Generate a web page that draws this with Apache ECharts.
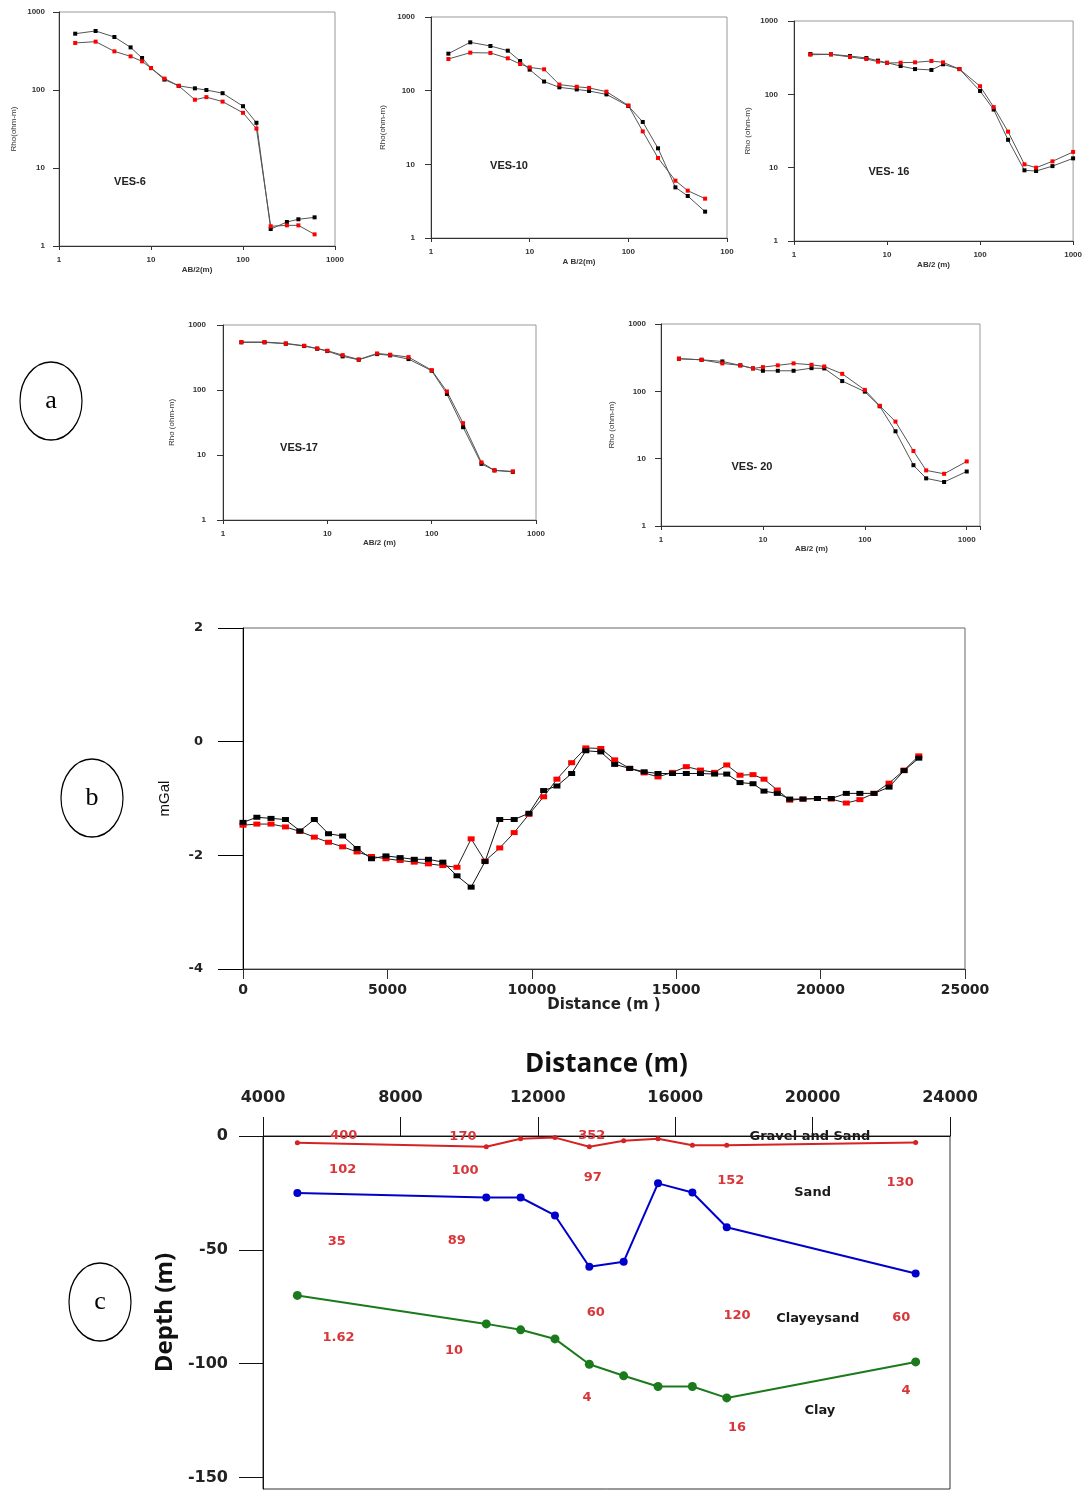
<!DOCTYPE html>
<html><head><meta charset="utf-8">
<script src="https://cdn.jsdelivr.net/npm/echarts@6/dist/echarts.min.js"></script>
<style>html,body{margin:0;padding:0;background:#fff}#c{width:1085px;height:1490px}</style>
</head><body><div id="c"></div>
<script>
// ---------- (a) VES sounding curves ----------
const abSpacing = [1.5,2.5,4,6,8,10,14,20,30,40,60,100,140,200,300,400,600];
const abSpacingLong = [1.5,2.5,4,6,8,10,14,20,30,40,60,100,140,200,300,400,600,1000];
const logTickLabels = ['1','10','100','1000'];
const ves10TickLabels = ['1','10','100','100'];
const ves6Black = [527,571,478,352,257,191,136,113,105,100,91,62,38,1.65,2.03,2.2,2.33];
const ves6Red = [401,417,313,270,233,191,140,113,75,81,71,51,32,1.79,1.84,1.84,1.41];
const ves10Black = [318,453,404,349,253,193,133,111,104,99,89,62,37.6,16.5,4.87,3.72,2.28];
const ves10Red = [269,328,325,275,230,207,195,121,113,109,97,63,28,12.2,6.0,4.39,3.42];
const ves16Black = [355,351,333,313,288,270,243,221,215,257,221,111,62,24,9.2,9.0,10.5,13.4];
const ves16Red = [347,351,323,303,279,267,270,273,285,273,221,129,67,31,11.1,10,12.2,16.4];
const ves17Black = [540,540,515,474,431,397,329,292,357,341,299,198,87,26.8,7.3,5.8,5.5];
const ves17Red = [547,547,521,480,436,402,344,295,365,349,321,202,95,30.9,7.7,5.8,5.6];
const ves20Black = [305,294,278,243,219,202,202,202,221,219,142,99,60,25.5,8.0,5.1,4.5,6.45];
const ves20Red = [305,294,260,243,219,229,243,260,248,234,182,105,61,35.5,13,6.7,5.96,9.1];
const vesTitles = ['VES-6','VES-10','VES- 16','VES-17','VES- 20'];

// ---------- (b) gravity profile ----------
const gravDistance = [0,480,970,1470,1970,2470,2960,3450,3950,4450,4950,5440,5930,6420,6920,7410,7900,8380,8890,9390,9900,10410,10870,11380,11870,12390,12870,13390,13890,14370,14870,15350,15840,16330,16750,17210,17660,18040,18500,18930,19390,19890,20370,20890,21360,21850,22370,22890,23400];
const gravBlack = [-1.42,-1.33,-1.35,-1.37,-1.57,-1.37,-1.62,-1.66,-1.88,-2.06,-2.01,-2.04,-2.07,-2.07,-2.12,-2.36,-2.56,-2.11,-1.37,-1.37,-1.26,-0.86,-0.78,-0.56,-0.16,-0.18,-0.40,-0.47,-0.53,-0.56,-0.56,-0.56,-0.56,-0.57,-0.57,-0.72,-0.74,-0.87,-0.91,-1.01,-1.01,-1.00,-1.00,-0.91,-0.91,-0.91,-0.80,-0.51,-0.29];
const gravRed = [-1.47,-1.45,-1.45,-1.50,-1.58,-1.68,-1.77,-1.85,-1.94,-2.02,-2.06,-2.09,-2.12,-2.15,-2.18,-2.21,-1.71,-2.10,-1.87,-1.60,-1.28,-0.97,-0.66,-0.37,-0.11,-0.12,-0.32,-0.47,-0.55,-0.62,-0.54,-0.44,-0.50,-0.54,-0.41,-0.59,-0.58,-0.66,-0.85,-1.03,-1.01,-1.00,-1.01,-1.08,-1.02,-0.91,-0.73,-0.50,-0.25];

// ---------- (c) geoelectric section ----------
const secDistance = [5000,10500,11500,12500,13500,14500,15500,16500,17500,23000];
const secTopBoundary = [-3,-4.7,-1.2,-0.7,-4.7,-2.1,-1.2,-4.1,-4.1,-2.9];
const secSandBase = [-25,-27,-27,-34.9,-57.4,-55.2,-20.8,-24.8,-40.1,-60.4];
const secClayTop = [-70,-82.5,-85.1,-89.1,-100.2,-105.3,-110,-110,-115,-99.2];
const resistivityText = ['400','170','352','363','303','102','100','97','152','130','35','89','60','120','60','1.62','10','4','16','4'];
const resistivityX = [6350,9820,13570,17480,22490,6320,9880,13600,17620,22550,6150,9640,13690,17800,22580,6200,9560,13430,17800,22720];
const resistivityY = [0,-0.3,0,1,1,-14.8,-15.2,-18.3,-19.6,-20.5,-46.4,-46,-77.7,-79,-79.8,-88.6,-94.4,-115,-128.2,-112];
const layerText = ['Gravel and Sand','Sand','Clayeysand','Clay'];
const layerX = [19920,20000,20150,20210];
const layerY = [-0.3,-24.9,-80.3,-120.7];

const pairs = (xs, ys) => xs.map((x, i) => [x, ys[i]]);
const isPow10 = v => Math.abs(Math.log10(v) - Math.round(Math.log10(v))) < 1e-6;
const logFmt = labels => v => isPow10(v) ? labels[Math.round(Math.log10(v))] : '';

const tickFont = {fontFamily:'Liberation Sans', fontSize:8, fontWeight:'bold', color:'#333'};
const nameFont = {fontFamily:'Liberation Sans', fontSize:8, color:'#333'};

const vesGrids = [
  {left:59, top:12, width:276, height:234},
  {left:431, top:17, width:296, height:221},
  {left:794, top:21, width:281, height:220},
  {left:223, top:325, width:313, height:195},
  {left:661, top:324, width:319, height:202}
];
const vesCfg = [
  {max:1000, xLabels:logTickLabels, xName:'AB/2(m)', yName:'Rho(ohm-m)', yGap:41, xGap:20, ym:14, xPad:0},
  {max:1000, xLabels:ves10TickLabels, xName:'A B/2(m)', yName:'Rho(ohm-m)', yGap:44, xGap:20, ym:16, xPad:0},
  {max:1000, xLabels:logTickLabels, xName:'AB/2 (m)', yName:'Rho (ohm-m)', yGap:42, xGap:20, ym:16, xPad:0},
  {max:1000, xLabels:logTickLabels, xName:'AB/2 (m)', yName:'Rho (ohm-m)', yGap:47, xGap:17, ym:17, xPad:0},
  {max:1350, xLabels:logTickLabels, xName:'AB/2 (m)', yName:'Rho (ohm-m)', yGap:45, xGap:18, ym:15, xPad:18}
];
const vesData = [
  [abSpacing, ves6Black, ves6Red],
  [abSpacing, ves10Black, ves10Red],
  [abSpacingLong, ves16Black, ves16Red],
  [abSpacing, ves17Black, ves17Red],
  [abSpacingLong, ves20Black, ves20Red]
];
const vesTitlePos = [[130,182],[509,166],[889,172],[299,448],[752,467]];

const grid = vesGrids.map(g => Object.assign({show:true, borderColor:'#999', borderWidth:1}, g));
grid.push({left:243, top:628, width:722, height:341, show:true, borderColor:'#666', borderWidth:1});
grid.push({left:263, top:1136, width:687, height:353, show:true, borderColor:'#333', borderWidth:1});

const xAxis = [], yAxis = [], series = [];
vesCfg.forEach((c, i) => {
  xAxis.push({type:'log', logBase:10, gridIndex:i, min:1, max:c.max,
    axisLine:{show:true, lineStyle:{color:'#333'}}, axisTick:{show:true, length:4, lineStyle:{color:'#333'}},
    splitLine:{show:false}, minorTick:{show:false},
    axisLabel:Object.assign({margin:10, formatter:logFmt(c.xLabels)}, tickFont),
    name:c.xName, nameLocation:'middle', nameGap:c.xGap,
    nameTextStyle:Object.assign({}, nameFont, {fontWeight:'bold', padding:[0, c.xPad, 0, 0]})});
  yAxis.push({type:'log', logBase:10, gridIndex:i, min:1, max:1000,
    axisLine:{show:true, lineStyle:{color:'#333'}}, axisTick:{show:true, length:6, lineStyle:{color:'#333'}},
    splitLine:{show:false}, minorTick:{show:false},
    axisLabel:Object.assign({margin:c.ym, formatter:logFmt(logTickLabels)}, tickFont),
    name:c.yName, nameLocation:'middle', nameGap:c.yGap, nameTextStyle:nameFont});
  const [xs, blk, red] = vesData[i];
  series.push({type:'line', xAxisIndex:i, yAxisIndex:i, data:pairs(xs, blk), symbol:'rect', symbolSize:4,
    itemStyle:{color:'#000'}, lineStyle:{color:'#555', width:1}});
  series.push({type:'line', xAxisIndex:i, yAxisIndex:i, data:pairs(xs, red), symbol:'rect', symbolSize:4,
    itemStyle:{color:'#f00'}, lineStyle:{color:'#555', width:1}});
});

// gravity
const gFont = {fontFamily:'DejaVu Sans', fontWeight:'bold', color:'#222'};
xAxis.push({type:'value', gridIndex:5, min:0, max:25000, interval:5000,
  axisLine:{show:true, onZero:false, lineStyle:{color:'#333'}}, axisTick:{show:true, length:10, lineStyle:{color:'#333'}},
  splitLine:{show:false},
  axisLabel:Object.assign({margin:14, fontSize:14, formatter:v => String(v)}, gFont),
  name:'Distance (m )', nameLocation:'middle', nameGap:29, nameTextStyle:Object.assign({fontSize:15}, gFont)});
yAxis.push({type:'value', gridIndex:5, min:-4, max:2, interval:2,
  axisLine:{show:true, onZero:false, lineStyle:{color:'#000'}}, axisTick:{show:true, length:25, lineStyle:{color:'#000'}},
  splitLine:{show:false},
  axisLabel:Object.assign({margin:40, fontSize:13, formatter:v => String(v)}, gFont),
  name:'mGal', nameLocation:'middle', nameGap:71,
  nameTextStyle:{fontFamily:'Liberation Sans Narrow, Liberation Sans', fontSize:15, color:'#111'}});
series.push({type:'line', xAxisIndex:5, yAxisIndex:5, data:pairs(gravDistance, gravRed), symbol:'rect', symbolSize:[7,5],
  itemStyle:{color:'#f00'}, lineStyle:{color:'#222', width:1}});
series.push({type:'line', xAxisIndex:5, yAxisIndex:5, data:pairs(gravDistance, gravBlack), symbol:'rect', symbolSize:[7,5],
  itemStyle:{color:'#000'}, lineStyle:{color:'#111', width:1}});

// section
const sFont = {fontFamily:'DejaVu Sans', fontWeight:'bold', color:'#222', fontSize:16};
xAxis.push({type:'value', gridIndex:6, position:'top', min:4000, max:24000, interval:4000,
  axisLine:{show:true, onZero:false, lineStyle:{color:'#111'}}, axisTick:{show:true, length:19, lineStyle:{color:'#111'}},
  splitLine:{show:false},
  axisLabel:Object.assign({margin:30, formatter:v => String(v)}, sFont),
  name:'Distance (m)', nameLocation:'middle', nameGap:58,
  nameTextStyle:{fontFamily:'Open Sans', fontWeight:'bold', fontSize:26, color:'#111'}});
yAxis.push({type:'value', gridIndex:6, min:-155, max:0,
  axisLine:{show:true, onZero:false, lineStyle:{color:'#111'}},
  axisTick:{show:true, length:24, customValues:[0,-50,-100,-150], lineStyle:{color:'#111'}},
  splitLine:{show:false},
  axisLabel:Object.assign({margin:35, customValues:[0,-50,-100,-150], formatter:v => String(v)}, sFont),
  name:'Depth (m)', nameLocation:'middle', nameGap:80,
  nameTextStyle:{fontFamily:'Open Sans', fontWeight:'bold', fontSize:24, color:'#111'}});
series.push({type:'line', xAxisIndex:6, yAxisIndex:6, data:pairs(secDistance, secTopBoundary), symbol:'circle', symbolSize:5,
  itemStyle:{color:'#d62222'}, lineStyle:{color:'#d62222', width:2}});
series.push({type:'line', xAxisIndex:6, yAxisIndex:6, data:pairs(secDistance, secSandBase), symbol:'circle', symbolSize:8,
  itemStyle:{color:'#0000cc'}, lineStyle:{color:'#0000cc', width:2}});
series.push({type:'line', xAxisIndex:6, yAxisIndex:6, data:pairs(secDistance, secClayTop), symbol:'circle', symbolSize:9,
  itemStyle:{color:'#1b7a1b'}, lineStyle:{color:'#1b7a1b', width:2}});
series.push({type:'scatter', xAxisIndex:6, yAxisIndex:6, symbolSize:1, itemStyle:{color:'rgba(0,0,0,0)', opacity:1}, z:5,
  data:resistivityText.map((t, i) => ({name:t, value:[resistivityX[i], resistivityY[i]]})),
  label:{show:true, position:'inside', formatter:'{b}', opacity:1, fontFamily:'DejaVu Sans', fontWeight:'bold', fontSize:13, color:'#d9363a'}});
series.push({type:'scatter', xAxisIndex:6, yAxisIndex:6, symbolSize:1, itemStyle:{color:'rgba(0,0,0,0)', opacity:1}, z:5,
  data:layerText.map((t, i) => ({name:t, value:[layerX[i], layerY[i]]})),
  label:{show:true, position:'inside', formatter:'{b}', opacity:1, fontFamily:'DejaVu Sans', fontWeight:'bold', fontSize:13, color:'#1a1a1a'}});

// graphics: panel letters and VES titles
const graphic = [];
[['a',51,401],['b',92,798],['c',100,1302]].forEach(([t,x,y]) => {
  graphic.push({type:'circle', x:x, y:y, scaleY:1.26, shape:{cx:0, cy:0, r:31}, style:{fill:'#fff', stroke:'#000', lineWidth:1.2}});
  graphic.push({type:'text', x:x, y:y, style:{text:t, fontFamily:'Liberation Serif', fontSize:26, fill:'#000', align:'center', verticalAlign:'middle'}});
});
vesTitles.forEach((t, i) => {
  graphic.push({type:'text', x:vesTitlePos[i][0], y:vesTitlePos[i][1], z:10,
    style:{text:t, fontFamily:'Liberation Sans', fontWeight:'bold', fontSize:11, fill:'#222', align:'center', verticalAlign:'middle'}});
});

const chart = echarts.init(document.getElementById('c'), null, {renderer:'canvas'});
chart.setOption({animation:false, backgroundColor:'#fff', grid, xAxis, yAxis, series, graphic});
</script></body></html>
